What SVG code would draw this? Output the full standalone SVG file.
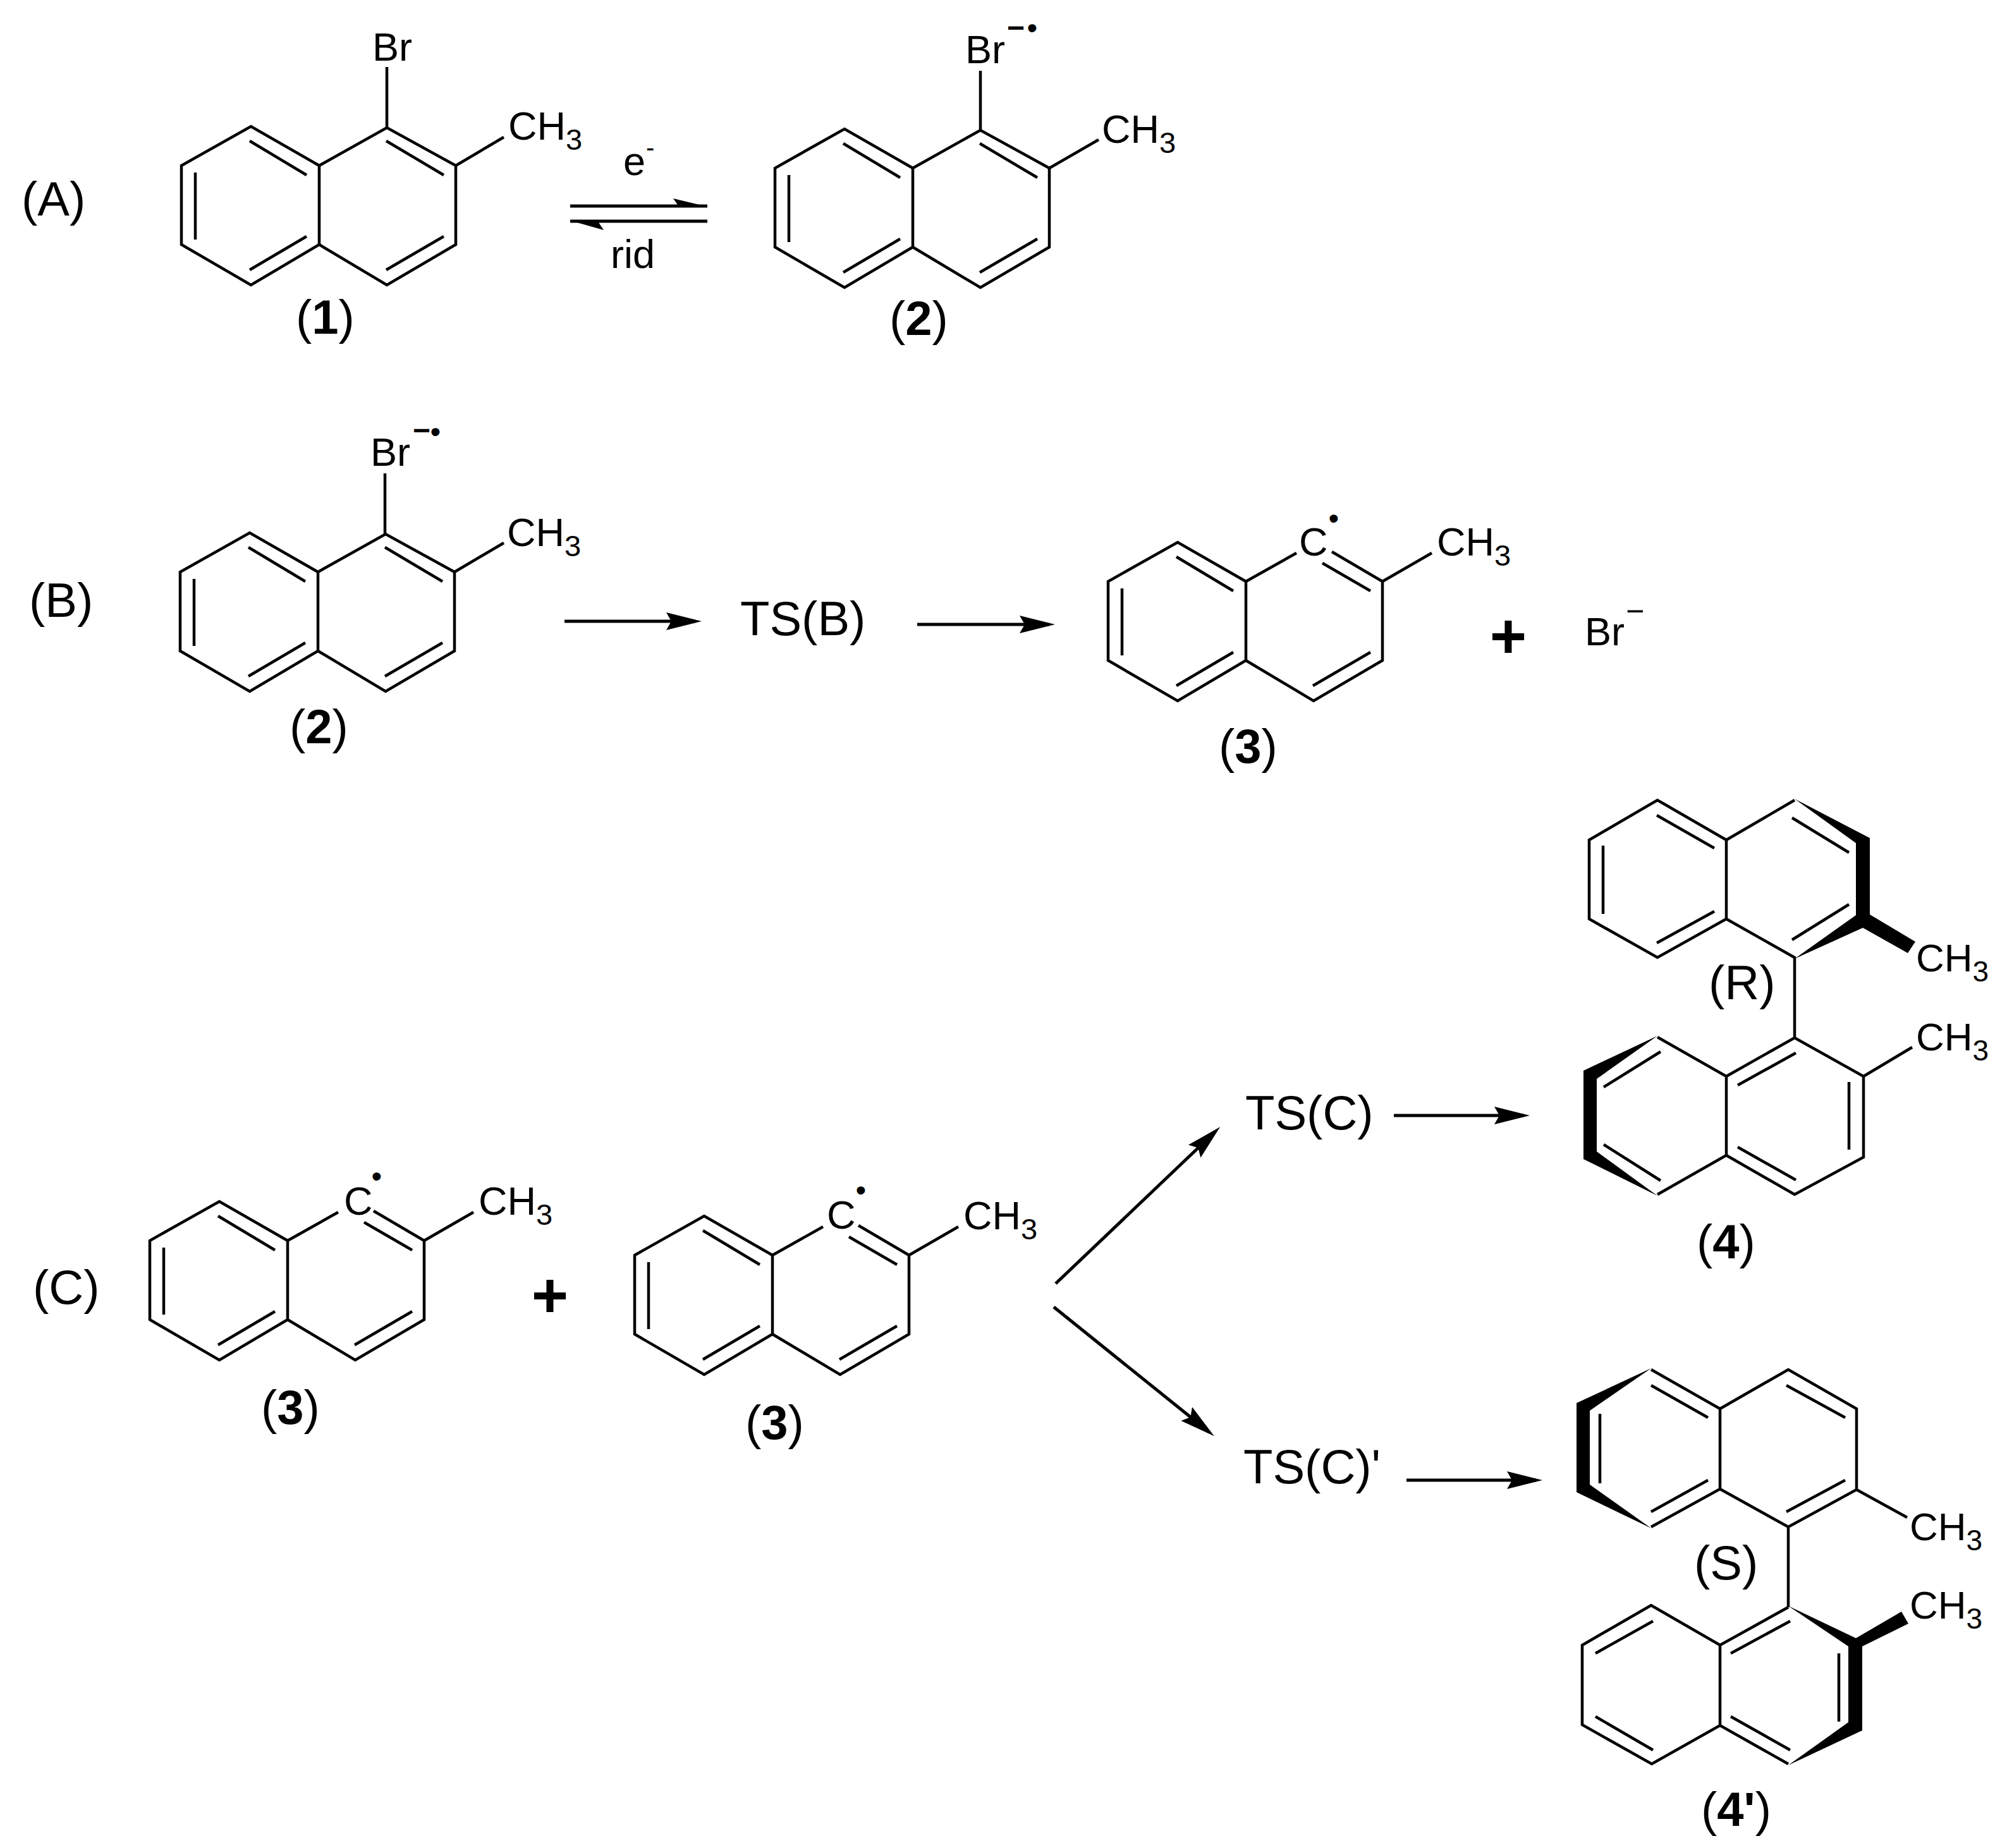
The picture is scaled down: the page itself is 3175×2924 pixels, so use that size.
<svg xmlns="http://www.w3.org/2000/svg" xmlns:xlink="http://www.w3.org/1999/xlink" width="3175" height="2924" viewBox="0 0 3175 2924">
<style>
text{font-family:"Liberation Sans",Arial,sans-serif;fill:#000}
.t{font-size:63px}.u{font-size:47px}.l{font-size:76px}.s{font-size:76px}.m{font-size:62px}.n{font-size:46px}
.b{font-weight:bold}
.bond{fill:none;stroke:#000;stroke-width:4.5;stroke-linejoin:miter}
.ar{fill:none;stroke:#000;stroke-width:5}
.sol{fill:#000;stroke:none}
.sup{font-size:48px;font-weight:bold}
.dot{font-size:45px;font-weight:bold}
.plus{font-size:100px;font-weight:bold;text-anchor:middle}
</style>
<defs>
<marker id="head" markerUnits="userSpaceOnUse" markerWidth="56" markerHeight="30" refX="46" refY="15" orient="auto"><path d="M0 1L56 15L0 29L8 15Z" fill="#000"/></marker>
<g id="base"><path class="bond" d="M0 0L-108-62L-218 0V125L-108 189L0 125ZM0 125L107 189L216 125V0M-110-39L-20 15M-196 11V117M-110 165L-20 112M106 165L197 112"/></g>
<g id="full"><use href="#base"/><path class="bond" d="M0 0L107-60L216 0M106-39L197 15"/></g>
<g id="rad"><use href="#base"/><path class="bond" d="M0 0L80-45M136-47L216 0M121-29L197 15"/></g>
</defs>
<rect width="3175" height="2924" fill="#fff"/>

<g id="connectors">
<path class="ar" d="M902 326H1119M902 350H1119"/>
<path class="sol" d="M1119 327L1065 314L1074 327ZM902 349L955 364L945 349Z"/>
<line class="ar" x1="893" y1="983" x2="1100" y2="983" marker-end="url(#head)"/>
<line class="ar" x1="1451" y1="988" x2="1659" y2="988" marker-end="url(#head)"/>
<line class="ar" x1="1670" y1="2031" x2="1923" y2="1790" marker-end="url(#head)"/>
<line class="ar" x1="1667" y1="2068" x2="1913" y2="2266" marker-end="url(#head)"/>
<line class="ar" x1="2205" y1="1765" x2="2410" y2="1765" marker-end="url(#head)"/>
<line class="ar" x1="2225" y1="2342" x2="2430" y2="2342" marker-end="url(#head)"/>
</g>

<g id="label-A"><text class="l" x="34" y="341">(A)</text></g>
<g id="label-B"><text class="l" x="46" y="976">(B)</text></g>
<g id="label-C"><text class="l" x="52" y="2063">(C)</text></g>

<g id="mol-1">
<use href="#full" x="505" y="262"/>
<path class="bond" d="M612 106V202M721 262L797 217"/>
<text class="t" x="589" y="96">Br</text>
<text class="t" x="804" y="221">CH<tspan class="u" dy="16">3</tspan></text>
<text class="l" x="468" y="528">(<tspan class="b">1</tspan>)</text>
</g>

<g id="eq-labels">
<text class="t" x="986" y="277">e</text>
<text x="1022" y="247" style="font-size:40px">-</text>
<text class="t" x="966" y="424">rid</text>
</g>

<g id="mol-2a">
<use href="#full" x="1444" y="266"/>
<path class="bond" d="M1551 112V207M1660 266L1738 221"/>
<text class="t" x="1527" y="100">Br</text>
<text class="sup" x="1593" y="60">−</text>
<text class="dot" x="1625" y="59">•</text>
<text class="t" x="1743" y="226">CH<tspan class="u" dy="16">3</tspan></text>
<text class="l" x="1407" y="530">(<tspan class="b">2</tspan>)</text>
</g>

<g id="mol-2b">
<use href="#full" x="503" y="905"/>
<path class="bond" d="M609 749V845M719 905L797 859"/>
<text class="t" x="586" y="737">Br</text>
<text class="sup" x="653" y="697">−</text>
<text class="dot" x="681" y="698">•</text>
<text class="t" x="802" y="864">CH<tspan class="u" dy="16">3</tspan></text>
<text class="l" x="458" y="1176">(<tspan class="b">2</tspan>)</text>
</g>

<g id="ts-b"><text class="s" x="1171" y="1005">TS(B)</text></g>

<g id="mol-3a">
<use href="#rad" x="1971" y="920"/>
<path class="bond" d="M2187 920L2265 875"/>
<text class="t" x="2055" y="879">C</text>
<text class="dot" x="2102" y="835">•</text>
<text class="t" x="2273" y="879">CH<tspan class="u" dy="16">3</tspan></text>
<text class="l" x="1928" y="1207">(<tspan class="b">3</tspan>)</text>
</g>
<g id="plus-b"><text class="plus" x="2386" y="1041">+</text></g>
<g id="br-anion">
<text class="t" x="2507" y="1021">Br</text>
<text x="2572" y="984" style="font-size:50px">−</text>
</g>

<g id="mol-3b">
<use href="#rad" x="455" y="1963"/>
<path class="bond" d="M671 1963L749 1918"/>
<text class="t" x="544" y="1922">C</text>
<text class="dot" x="588" y="1876">•</text>
<text class="t" x="757" y="1922">CH<tspan class="u" dy="16">3</tspan></text>
<text class="l" x="413" y="2253">(<tspan class="b">3</tspan>)</text>
</g>
<g id="plus-c"><text class="plus" x="870" y="2084">+</text></g>
<g id="mol-3c">
<use href="#rad" x="1222" y="1986"/>
<path class="bond" d="M1438 1986L1516 1941"/>
<text class="t" x="1308" y="1944">C</text>
<text class="dot" x="1354" y="1898">•</text>
<text class="t" x="1524" y="1945">CH<tspan class="u" dy="16">3</tspan></text>
<text class="l" x="1179" y="2277">(<tspan class="b">3</tspan>)</text>
</g>

<g id="ts-c"><text class="s" x="1970" y="1787">TS(C)</text></g>
<g id="ts-c-prime"><text class="s" x="1967" y="2347">TS(C)'</text></g>

<g id="mol-4">
<path class="bond" d="M2731 1329L2622 1266L2514 1329V1454L2622 1515L2731 1454ZM2731 1329L2839 1266M2731 1454L2839 1515V1642M2621 1290L2712 1342M2536 1338V1446M2621 1492L2712 1442M2835 1294L2925 1349M2835 1487L2925 1431"/>
<path class="sol" d="M2839 1264L2958 1326V1447L3030 1490L3018 1508L2947 1468L2839 1517L2936 1448V1334Z"/>
<path class="bond" d="M2622 1641L2731 1703V1828L2622 1890M2731 1703L2839 1642L2948 1703V1831L2839 1890L2731 1828M2948 1703L3025 1657M2537 1720L2627 1664M2537 1811L2627 1868M2749 1717L2841 1666M2925 1712V1819M2749 1815L2841 1867"/>
<path class="sol" d="M2622 1639L2505 1694V1834L2622 1892L2526 1822V1707Z"/>
<text class="m" x="3031" y="1537">CH<tspan class="n" dy="16">3</tspan></text>
<text class="m" x="3031" y="1662">CH<tspan class="n" dy="16">3</tspan></text>
<text class="l" x="2703" y="1581">(R)</text>
<text class="l" x="2684" y="1991">(<tspan class="b">4</tspan>)</text>
</g>

<g id="mol-4-prime">
<path class="bond" d="M2612 2167L2721 2229V2356L2612 2416M2721 2229L2829 2167L2937 2229V2357L2829 2416L2721 2356M2937 2357L3017 2401M2829 2416V2543M2612 2192L2702 2243M2531 2237V2347M2612 2392L2702 2342M2826 2192L2919 2243M2826 2392L2919 2342"/>
<path class="sol" d="M2612 2165L2494 2220V2361L2612 2418L2515 2349V2232Z"/>
<path class="bond" d="M2829 2543L2721 2603L2612 2540L2503 2603V2729L2613 2791L2721 2730L2829 2791M2721 2603V2730M2524 2616L2615 2565M2524 2716L2615 2769M2738 2616L2832 2565M2909 2616V2724M2738 2716L2832 2769"/>
<path class="sol" d="M2829 2541L2936 2592L3008 2550L3019 2569L2946 2605V2738L2829 2793L2924 2725V2605Z"/>
<text class="m" x="3021" y="2437">CH<tspan class="n" dy="16">3</tspan></text>
<text class="m" x="3021" y="2561">CH<tspan class="n" dy="16">3</tspan></text>
<text class="l" x="2680" y="2499">(S)</text>
<text class="l" x="2691" y="2889">(<tspan class="b">4'</tspan>)</text>
</g>
</svg>
